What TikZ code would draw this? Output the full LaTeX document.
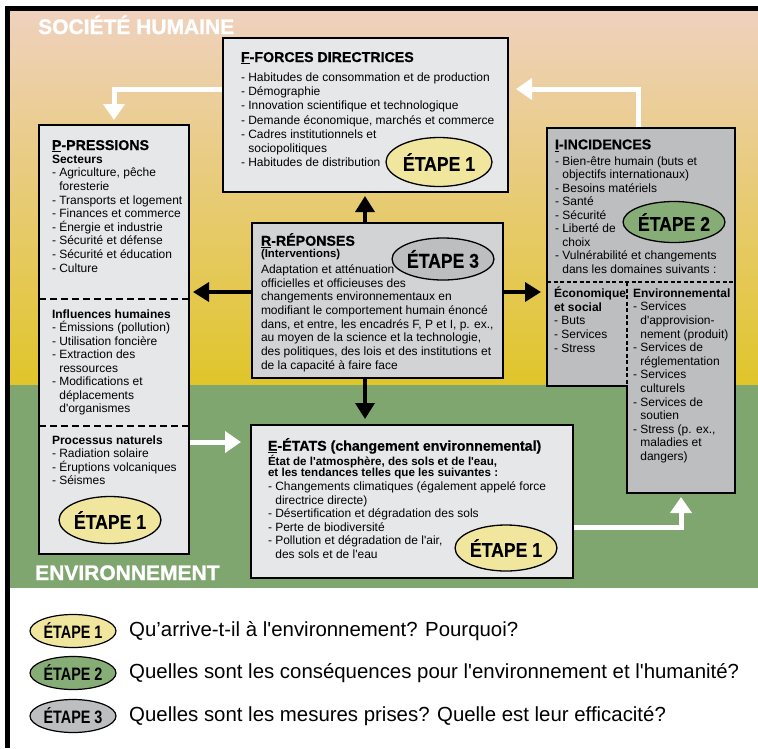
\documentclass[tikz,border=0pt]{standalone}
\usepackage{fontspec}
\setmainfont{Liberation Sans}[Ligatures=TeXOff]
\newfontfamily\heavy{Liberation Sans Bold}[FakeBold=1.2]
\newfontfamily\ttlfont{Liberation Sans Bold}[FakeBold=0.6]
\newfontfamily\etapefont{Liberation Sans Bold}[FakeStretch=0.88,FakeBold=0.4]
\newfontfamily\etapesmall{Liberation Sans Bold}[FakeStretch=0.8]
\usetikzlibrary{arrows.meta,shapes.geometric}
\definecolor{peach}{RGB}{239,209,190}
\definecolor{midtone}{RGB}{234,206,150}
\definecolor{ochre}{RGB}{224,197,42}
\definecolor{grn}{RGB}{127,166,110}
\definecolor{boxlight}{RGB}{230,231,232}
\definecolor{boxmid}{RGB}{210,211,213}
\definecolor{boxdark}{RGB}{188,190,192}
\definecolor{eone}{RGB}{240,230,158}
\definecolor{etwo}{RGB}{134,173,118}
\newcommand\bodyfont[1]{\fontsize{12}{#1}\selectfont}
\newcommand\ttl{\ttlfont\fontsize{14.2}{14.2}\selectfont}
\newcommand\hng{\phantom{- }}
\tikzset{
  panel/.style={rectangle, anchor=north west, inner sep=0pt, outer sep=0pt, draw=black, line width=1.4pt},
  ipart/.style={rectangle, anchor=north west, inner sep=0pt, outer sep=0pt, fill=boxdark},
  txt/.style={anchor=base west, inner sep=0pt, outer sep=0pt, align=left},
  etapebase/.style={ellipse, draw=black, line width=1.3pt, inner sep=0pt, font=\etapefont\fontsize{20}{20}\selectfont},
  legendell/.style={ellipse, draw=black, line width=1.2pt, inner sep=0pt, minimum width=86pt, minimum height=33pt, font=\etapesmall\fontsize{18}{18}\selectfont},
  legendtxt/.style={anchor=west, inner sep=0pt, font=\fontsize{20.4}{24}\selectfont},
  dashsep/.style={line width=1.2pt, dash pattern=on 7pt off 4pt},
  dashsmall/.style={line width=1.2pt, dash pattern=on 4pt off 2.5pt},
  blk/.style={draw=black, line width=3.5pt, -{Triangle[length=16pt,width=19pt]}},
  wht/.style={draw=white, line width=5pt, -{Triangle[length=16pt,width=21pt]}},
  bigwhite/.style={anchor=base west, inner sep=0pt, text=white, font=\heavy\fontsize{21}{21}\selectfont},
}
\begin{document}
\begin{tikzpicture}[x=1pt,y=-1pt]
\useasboundingbox (0,0) rectangle (758,748);
\fill[white] (0,0) rectangle (758,748);
% backgrounds
\shade[top color=peach, middle color=midtone, bottom color=ochre] (10,11) rectangle (758,385);
\fill[grn] (10,385) rectangle (758,588);
\fill[black] (5,6) rectangle (758,11);
\fill[black] (5,6) rectangle (10,748);
\node[bigwhite] (soc) at (38,34) {SOCIÉTÉ HUMAINE};
\node[bigwhite] (env) at (35,580) {ENVIRONNEMENT};

% boxes
\node[panel, fill=boxlight, minimum width=285pt, minimum height=154pt] (F) at (223,38) {};
\node[panel, fill=boxlight, minimum width=150pt, minimum height=429pt] (P) at (39,125) {};
\node[panel, fill=boxmid, minimum width=251pt, minimum height=155pt] (R) at (252,223) {};
\node[panel, fill=boxlight, minimum width=322pt, minimum height=153pt] (E) at (251,425) {};
\node[ipart, minimum width=188pt, minimum height=154pt] (I) at (547,128) {};
\node[ipart, minimum width=80pt, minimum height=104pt] (Iecon) at (547,282) {};
\node[ipart, minimum width=108pt, minimum height=211pt] (Ienv) at (627,282) {};
\draw[line width=1.4pt] (I.north west) -- (I.north east) -- (Ienv.south east) -- (Ienv.south west) -- (Iecon.south east) -- (Iecon.south west) -- cycle;
\draw[dashsmall] (I.south west) -- (I.south east);
\draw[dashsmall] (Iecon.north east) -- (Iecon.south east);
\draw[dashsep] (P.west |- 0,299) -- (P.east |- 0,299);
\draw[dashsep] (P.west |- 0,426) -- (P.east |- 0,426);

% arrows
\coordinate (rn) at ([xshift=-12.5pt]R.north);
\coordinate (rs) at ([xshift=-12.5pt]R.south);
\coordinate (rw) at ([yshift=8.5pt]R.west);
\coordinate (re) at ([yshift=8.5pt]R.east);
\draw[blk, shorten >=4pt] (rn) -- (rn |- F.south);
\draw[blk, shorten >=6pt] (rs) -- (rs |- E.north);
\draw[blk, shorten >=4pt] (rw) -- (rw -| P.east);
\draw[blk, shorten >=6pt] (re) -- (re -| I.west);
\coordinate (fw) at ([yshift=26pt]F.west);
\coordinate (fe) at ([yshift=26pt]F.east);
\coordinate (in) at ([xshift=-3pt]I.north);
\coordinate (pe) at ([yshift=-102.5pt]P.east);
\coordinate (ee) at ([yshift=-25.5pt]E.east);
\draw[wht, shorten <=0.7pt, shorten >=5pt] (fw) -| (P.north);
\draw[wht, shorten <=0.7pt, shorten >=8pt] (in) |- (fe);
\draw[wht, shorten <=0.7pt, shorten >=10pt] (pe) -- (pe -| E.west);
\draw[wht, shorten <=0.7pt, shorten >=4pt] (ee) -| (Ienv.south);

% texts
\node[txt] (Ft) at (241,62) {\parbox[t]{262pt}{\bodyfont{14.2}%
{\ttl\underline{F}-FORCES DIRECTRICES}\\[5.3pt]
- Habitudes de consommation et de production\\
- Démographie\\
- Innovation scientifique et technologique\\
- Demande économique, marchés et commerce\\
- Cadres institutionnels et\\
\hng sociopolitiques\\
- Habitudes de distribution}};

\node[txt] (Pt) at (52,150) {\parbox[t]{140pt}{\bodyfont{13.6}%
{\ttl\underline{P}-PRESSIONS}\\[-0.4pt]
{\bfseries Secteurs}\\
- Agriculture, pêche\\
\hng foresterie\\
- Transports et logement\\
- Finances et commerce\\
- Énergie et industrie\\
- Sécurité et défense\\
- Sécurité et éducation\\
- Culture}};

\node[txt] (Pt2) at (52,318.3) {\parbox[t]{140pt}{\bodyfont{13.45}%
{\bfseries Influences humaines}\\
- Émissions (pollution)\\
- Utilisation foncière\\
- Extraction des\\
\hng ressources\\
- Modifications et\\
\hng déplacements\\
\hng d'organismes}};

\node[txt] (Pt3) at (52,444) {\parbox[t]{140pt}{\bodyfont{13.6}%
{\bfseries Processus naturels}\\
- Radiation solaire\\
- Éruptions volcaniques\\
- Séismes}};

\node[txt] (Rt) at (261,245.7) {\parbox[t]{240pt}{\bodyfont{13.7}%
{\ttl\underline{R}-RÉPONSES}\\[-1.7pt]
{\bfseries\fontsize{11.4}{13.7}\selectfont (Interventions)}\\[1.9pt]
Adaptation et atténuation\\
officielles et officieuses des\\
changements environnementaux en\\
modifiant le comportement humain énoncé\\
dans, et entre, les encadrés F, P et I, p. ex.,\\
au moyen de la science et la technologie,\\
des politiques, des lois et des institutions et\\
de la capacité à faire face}};

\node[txt] (It) at (555,149.3) {\parbox[t]{200pt}{\bodyfont{13.5}%
{\ttl\underline{I}-INCIDENCES}\\[2.2pt]
- Bien-être humain (buts et\\
\hng objectifs internationaux)\\
- Besoins matériels\\
- Santé\\
- Sécurité\\
- Liberté de\\
\hng choix\\
- Vulnérabilité et changements\\
\hng dans les domaines suivants :}};

\node[txt] (It2) at (554,297.3) {\parbox[t]{80pt}{\bodyfont{13.7}%
{\bfseries Économique}\\
{\bfseries et social}\\
- Buts\\
- Services\\
- Stress}};

\node[txt] (It3) at (633,297.3) {\parbox[t]{110pt}{\bodyfont{13.6}%
{\bfseries Environnemental}\\
- Services\\
\hng d'approvision-\\
\hng nement (produit)\\
- Services de\\
\hng réglementation\\
- Services\\
\hng culturels\\
- Services de\\
\hng soutien\\
- Stress (p. ex.,\\
\hng maladies et\\
\hng dangers)}};

\node[txt] (Et) at (268,450.7) {\parbox[t]{300pt}{\bodyfont{13.5}%
{\ttl\underline{E}-ÉTATS (changement environnemental)}\\[0.8pt]
{\bfseries\fontsize{11.6}{13.5}\selectfont État de l'atmosphère, des sols et de l'eau,}\\[-2pt]
{\bfseries\fontsize{11.6}{13.5}\selectfont et les tendances telles que les suivantes :}\\[0.8pt]
- Changements climatiques (également appelé force\\
\hng directrice directe)\\
- Désertification et dégradation des sols\\
- Perte de biodiversité\\
- Pollution et dégradation de l'air,\\
\hng des sols et de l'eau}};

% etape ellipses
\node[etapebase, fill=eone, minimum width=106pt, minimum height=49pt] (eF) at (439,162) {ÉTAPE 1};
\node[etapebase, fill=eone, minimum width=98pt, minimum height=47pt] (eP) at (110,520) {ÉTAPE 1};
\node[etapebase, fill=boxdark, minimum width=100pt, minimum height=42pt] (eR) at (443,259) {ÉTAPE 3};
\node[etapebase, fill=etwo, minimum width=90pt, minimum height=41pt] (eI) at (674,222) {ÉTAPE 2};
\node[etapebase, fill=eone, minimum width=98pt, minimum height=46pt] (eE) at (506,548) {ÉTAPE 1};

% legend
\node[legendell, fill=eone] (l1) at (73,631) {ÉTAPE 1};
\node[legendell, fill=etwo] (l2) at (73,673) {ÉTAPE 2};
\node[legendell, fill=boxdark] (l3) at (73,716) {ÉTAPE 3};
\node[legendtxt] (t1) at (129,631) {Qu’arrive-t-il à l'environnement? Pourquoi?};
\node[legendtxt] (t2) at (129,673) {Quelles sont les conséquences pour l'environnement et l'humanité?};
\node[legendtxt] (t3) at (129,716) {Quelles sont les mesures prises? Quelle est leur efficacité?};
\end{tikzpicture}
\end{document}
